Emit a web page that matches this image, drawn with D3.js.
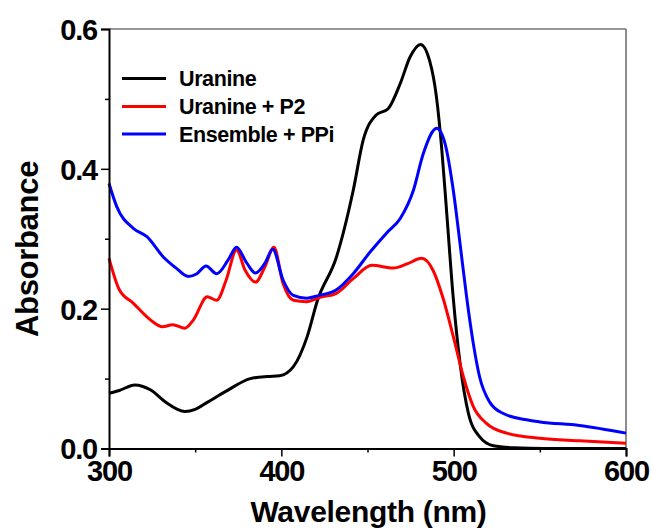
<!DOCTYPE html>
<html>
<head>
<meta charset="utf-8">
<script src="https://cdn.jsdelivr.net/npm/d3@7"></script>
<style>
  html, body { margin: 0; padding: 0; background: #fff; }
  svg text { font-family: "Liberation Sans", Arial, sans-serif; font-weight: bold; }
</style>
</head>
<body>
<svg id="chart" width="652" height="529"></svg>
<script>
// UV-Vis absorption spectra: wavelength (nm) vs absorbance
const seriesNames = ["Uranine", "Uranine + P2", "Ensemble + PPi"];
const seriesColors = ["#000000", "#ff0000", "#0000ff"];

const uranineWl  = [300, 306, 315, 324, 333, 344, 350, 357, 368, 382, 392, 399, 407, 415, 421, 432, 441.7, 447.5, 455, 462, 469, 474.7, 480.8, 486, 490, 493, 496, 499.7, 503.7, 508.6, 515, 523, 535, 553, 600];
const uranineAbs = [0.079, 0.083, 0.091, 0.084, 0.066, 0.053, 0.056, 0.066, 0.082, 0.100, 0.103, 0.104, 0.117, 0.160, 0.212, 0.274, 0.369, 0.441, 0.477, 0.486, 0.522, 0.560, 0.578, 0.555, 0.503, 0.431, 0.336, 0.217, 0.122, 0.050, 0.017, 0.004, 0.001, 0.0, 0.0];

const p2Wl  = [300, 306, 314, 324, 331, 337, 344, 349, 357, 362.5, 368, 374, 379, 385, 390.5, 395.7, 401, 407, 414.7, 422, 432, 441.7, 452.6, 465, 473, 481.4, 488, 493.6, 499.8, 505.6, 511.4, 519, 530.8, 550, 573, 600];
const p2Abs = [0.272, 0.227, 0.208, 0.184, 0.174, 0.177, 0.172, 0.184, 0.217, 0.212, 0.241, 0.284, 0.255, 0.238, 0.260, 0.288, 0.236, 0.212, 0.210, 0.216, 0.222, 0.243, 0.262, 0.258, 0.264, 0.272, 0.255, 0.217, 0.160, 0.103, 0.060, 0.036, 0.022, 0.0146, 0.011, 0.0074];

const ppiWl  = [300, 304.5, 314, 322, 331.5, 339, 346, 351, 356.3, 362.5, 369, 374, 380, 385, 390.5, 395, 401, 407, 414.7, 422, 432, 441.7, 451.5, 461, 469, 476.6, 482.4, 490.2, 495, 499.8, 503.7, 507.5, 511.4, 515, 521, 528.8, 542.4, 550, 573, 600];
const ppiAbs = [0.379, 0.346, 0.315, 0.303, 0.274, 0.258, 0.246, 0.250, 0.261, 0.250, 0.269, 0.288, 0.265, 0.251, 0.265, 0.285, 0.241, 0.219, 0.215, 0.219, 0.227, 0.250, 0.281, 0.308, 0.329, 0.369, 0.422, 0.458, 0.436, 0.369, 0.293, 0.217, 0.150, 0.103, 0.066, 0.050, 0.041, 0.038, 0.033, 0.022];

const xMajorTicks = [300, 400, 500, 600];
const xMinorTicks = [350, 450, 550];
const yMajorTicks = [0.0, 0.2, 0.4, 0.6];
const yMinorTicks = [0.1, 0.3, 0.5];

const svg = d3.select("#chart");
const plotLeft = 109, plotRight = 626, plotTop = 29, plotBottom = 448.5;

const x = d3.scaleLinear().domain([300, 600]).range([plotLeft, plotRight]);
const y = d3.scaleLinear().domain([0, 0.6]).range([plotBottom, plotTop]);

// frame: thin top and right edges
svg.append("line").attr("x1", plotLeft).attr("x2", plotRight).attr("y1", plotTop).attr("y2", plotTop)
  .attr("stroke", "#333").attr("stroke-width", 1.2);
svg.append("line").attr("x1", plotRight).attr("x2", plotRight).attr("y1", plotTop).attr("y2", plotBottom)
  .attr("stroke", "#666").attr("stroke-width", 1.5);

// spectra
const series = [
  { wl: uranineWl, abs: uranineAbs },
  { wl: p2Wl, abs: p2Abs },
  { wl: ppiWl, abs: ppiAbs }
];
const line = d3.line().curve(d3.curveMonotoneX)
  .x(d => x(d[0])).y(d => y(d[1]));
const plot = svg.append("g");
series.forEach((s, i) => {
  plot.append("path")
    .datum(s.wl.map((w, j) => [w, s.abs[j]]))
    .attr("fill", "none")
    .attr("stroke", seriesColors[i])
    .attr("stroke-width", 3)
    .attr("stroke-linejoin", "round")
    .attr("d", line);
});

// axes
const fmtY = d3.format(".1f");
const xAxis = svg.append("g").attr("transform", `translate(0,${plotBottom})`)
  .call(d3.axisBottom(x).tickValues(xMajorTicks).tickSize(8).tickPadding(4).tickFormat(d3.format("d")));
const xMinor = svg.append("g").attr("transform", `translate(0,${plotBottom})`)
  .call(d3.axisBottom(x).tickValues(xMinorTicks).tickSize(4).tickFormat(""));
const yAxis = svg.append("g").attr("transform", `translate(${plotLeft},0)`)
  .call(d3.axisLeft(y).tickValues(yMajorTicks).tickSize(8).tickPadding(4).tickFormat(fmtY));
const yMinor = svg.append("g").attr("transform", `translate(${plotLeft},0)`)
  .call(d3.axisLeft(y).tickValues(yMinorTicks).tickSize(4).tickFormat(""));

[xAxis, xMinor, yAxis, yMinor].forEach(g => {
  g.select(".domain").attr("stroke", "#000").attr("stroke-width", 2);
  g.selectAll(".tick line").attr("stroke", "#000").attr("stroke-width", 1.5);
});
xMinor.select(".domain").remove();
yMinor.select(".domain").remove();

xAxis.selectAll(".tick text")
  .attr("font-size", 29).attr("letter-spacing", -1.2).attr("fill", "#000")
  .attr("dy", "0.72em");
yAxis.selectAll(".tick text")
  .attr("font-size", 29).attr("letter-spacing", -1.2).attr("fill", "#000")
  .attr("dy", "0.36em");

// axis titles
svg.append("text")
  .attr("x", (plotLeft + plotRight) / 2 + 1).attr("y", 521.5)
  .attr("text-anchor", "middle").attr("font-size", 30).attr("letter-spacing", -0.3)
  .text("Wavelength (nm)");
svg.append("text")
  .attr("transform", "translate(38,249) rotate(-90)")
  .attr("text-anchor", "middle").attr("font-size", 31).attr("letter-spacing", -0.3)
  .text("Absorbance");

// legend
const legendRows = [78.5, 106.5, 134];
const legend = svg.append("g");
seriesNames.forEach((name, i) => {
  legend.append("line")
    .attr("x1", 122).attr("x2", 166)
    .attr("y1", legendRows[i]).attr("y2", legendRows[i])
    .attr("stroke", seriesColors[i]).attr("stroke-width", 3);
  legend.append("text")
    .attr("x", 179).attr("y", legendRows[i]).attr("dy", "0.36em")
    .attr("font-size", 21.5).attr("letter-spacing", -0.4)
    .text(name);
});
</script>
</body>
</html>
